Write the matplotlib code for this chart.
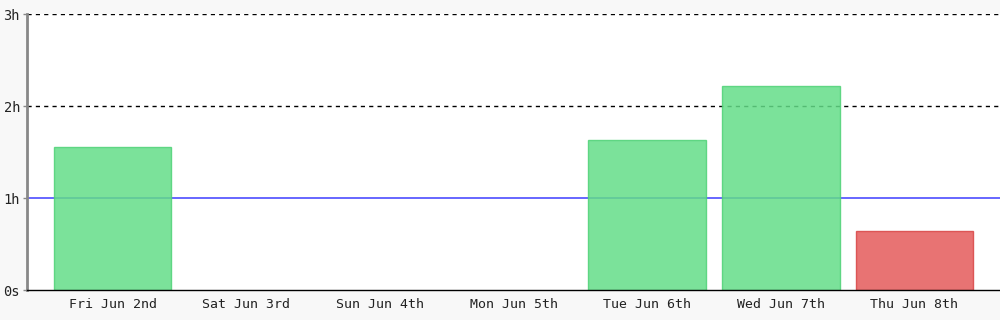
import matplotlib
matplotlib.use("Agg")
import matplotlib.pyplot as plt

days = ["Fri Jun 2nd", "Sat Jun 3rd", "Sun Jun 4th", "Mon Jun 5th",
        "Tue Jun 6th", "Wed Jun 7th", "Thu Jun 8th"]
hours = [1.55, 0, 0, 0, 1.63, 2.22, 0.64]
over_goal = [True, False, False, False, True, True, False]
goal = 1.0
y_ticks = [0, 1, 2, 3]
y_labels = ["0s", "1h", "2h", "3h"]

plt.rcParams["font.family"] = ["DejaVu Sans Mono"]

fig = plt.figure(figsize=(10, 3.2), dpi=100, facecolor="#f8f8f8")
ax = fig.add_axes([0.027, 0.09375, 0.973, 0.8625])
ax.set_facecolor("white")

# reference lines first, bars are translucent over them
for y in (2, 3):
    ax.axhline(y, color="black", lw=1, ls=(0, (3, 3)), zorder=1)
ax.axhline(goal, color="#4d4dff", lw=1.2, zorder=1)

x = list(range(len(days)))
colors = ["#64dd88" if ok else "#e45a5a" for ok in over_goal]
edges = ["#4fd277" if ok else "#d84545" for ok in over_goal]
widths = [1 if h > 0 else 0 for h in hours]
ax.bar(x, hours, width=0.88, color=colors, edgecolor=edges, linewidth=widths,
       alpha=0.85, zorder=2)

ax.set_xlim(-0.64, 6.64)
ax.set_ylim(0, 3)
ax.set_xticks(x)
ax.set_xticklabels(days, fontsize=9.5, color="#222222")
ax.set_yticks(y_ticks)
ax.set_yticklabels(y_labels, fontsize=9.8, color="#222222")
ax.tick_params(axis="x", length=0, pad=6)
ax.tick_params(axis="y", length=3, width=1, color="#888888", pad=2)

for s in ("top", "right"):
    ax.spines[s].set_visible(False)
ax.spines["left"].set_color("#888888")
ax.spines["left"].set_linewidth(2)
ax.spines["bottom"].set_color("black")
ax.spines["bottom"].set_linewidth(1)
ax.spines["bottom"].set_zorder(3)

fig.savefig("out.png", dpi=100, facecolor=fig.get_facecolor())
